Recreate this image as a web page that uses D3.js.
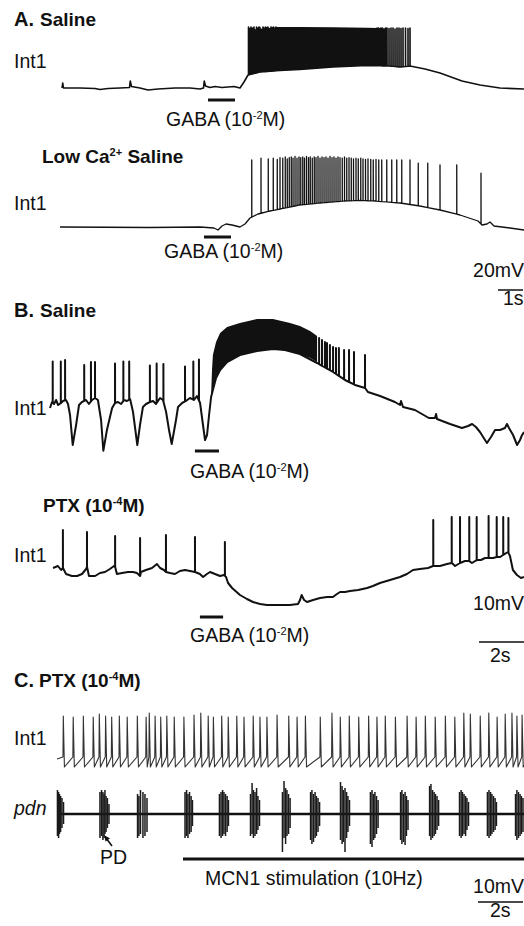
<!DOCTYPE html>
<html>
<head>
<meta charset="utf-8">
<script src="https://cdn.jsdelivr.net/npm/d3@7"></script>
<style>
  body { margin: 0; background: #fff; }
  text { font-family: "Liberation Sans", Arial, Helvetica, sans-serif; fill: #111; }
</style>
</head>
<body>
<script>
// ---------- data (time in s, voltage in mV relative to rest) ----------

// A. Saline, Int1
var a1Base = [[0,0],[0.03,4],[0.06,0],[0.72,0],[1.32,-0.4],[1.52,-1.2],[1.84,-0.4],[2.32,0],[2.7,0.4],[2.73,5.6],[2.78,1.2],
  [3.12,0],[3.44,-1.6],[3.84,-0.8],[4.52,0],[5.12,0],[5.52,-0.8],[5.66,0],[5.69,5.6],[5.74,1.6],[5.92,0.4],[6.12,1.2],[6.4,0.4],
  [6.64,0.8],[6.88,1.2],[7.12,0],[7.28,4.8],[7.44,10.4],[7.92,12.8],[8.72,14],[9.52,14.8],[10.84,16.8],[12.2,18],[13.12,17.6],
  [13.52,16.8],[13.92,17.6],[14.12,16.8],[14.52,15.2],[15.12,12],[16,5.6],[16.72,2.4],[17.52,0],[18.48,-0.8]];
var a1SpikeT = [7.46,7.52,7.56,7.62,7.68,7.72,7.78,7.84,7.88,7.92,7.98,8.04,8.08,8.14,8.2,8.24,8.3,8.36,8.4,8.46,8.52,8.56,
  12.6,12.66,12.72,12.76,12.82,12.88,12.94,13.0,13.08,13.16,13.24,13.32,13.4,13.48,13.56,13.64,13.74,13.84,13.92];
var a1SpikeV = [48.8,47.5,48.8,48,48.8,46.5,48.8,48,48.8,48.4,47,48.8,48,48.8,48.4,48.8,47.6,48.8,48.4,48.8,48,48.8,
  48,48,47.6,48,48,47.2,48,48,47.6,48,48,47.2,48,48,47.6,48,48,47.6,48];
// solid firing band: [t, lower, upper]
var a1Band = [[8.56,13.8,48.8],[9.52,14.8,48.8],[10.84,16.8,48.6],[12.2,18,48.2],[12.62,18,48]];
var a1Gaba = [5.84, 6.92];

// A. Low Ca2+ saline, Int1
var a2Base = [[0,0],[3.6,-0.4],[5.6,0],[6.16,-0.8],[6.32,-2.4],[6.48,0.8],[6.64,2.4],[6.88,1.6],[7.2,0],[7.4,2.4],[7.6,7.2],
  [7.68,8],[7.92,10.4],[8.4,12.8],[9,15.2],[9.6,17.6],[10.4,19.2],[11.4,20.8],[12,21.2],[12.6,20.8],[13.6,19.2],[14.4,16.8],
  [15.2,13.6],[16,9.6],[16.72,4.8],[16.88,1.6],[17.08,2.4],[17.2,4],[17.36,0.8],[18,-0.8],[18.56,-2.4]];
var a2SpikeT = [7.67,8.04,8.33,8.53,8.69,8.8,8.91,9.01,9.09,9.17,9.25,9.32,9.4,9.48,9.56,9.63,9.71,9.78,9.86,9.94,10.01,
  10.09,10.17,10.24,10.32,10.4,10.48,10.56,10.64,10.72,10.8,10.88,10.96,11.04,11.12,11.2,11.29,11.38,11.47,11.56,11.65,
  11.74,11.84,11.93,12.03,12.12,12.22,12.32,12.43,12.53,12.64,12.75,12.87,13.07,13.27,13.47,13.67,14.0,14.33,14.71,15.2,
  15.87,16.84];
var a2SpikeV = [53.6,55,54.5,55,54,55.5,55,56,54.5,55.5,56,55,56.5,55,56,55.5,56,55,56.5,55.5,56,
  55,56,55.5,56.5,55,56,55.5,56,55,56.5,55.5,56,55,56,55.5,55,56,55,55.5,55,
  54.5,55,54.5,55,54.5,54,54.5,54,53.6,54,53.6,53.6,53.6,53.6,53.6,53.6,53.6,51,51,49.6,
  49.6,43];
var a2Gaba = [5.76, 6.84];

// B. Saline, Int1
var b1Base = [[0,0],[0.09,3],[0.18,2],[0.27,4],[0.36,1.5],[0.49,2.5],[0.58,3.5],[0.71,4],[0.8,2],[0.89,-3.5],[1.01,-18.5],
  [1.16,-8.5],[1.29,1.5],[1.42,3],[1.6,4],[1.73,2],[1.87,4],[2,5],[2.13,4],[2.27,-6],[2.37,-21.4],[2.53,-11],[2.76,0],
  [2.89,2.5],[3.02,3],[3.16,2],[3.29,4],[3.42,3.5],[3.56,4.5],[3.69,-2],[3.88,-18.5],[4,-8.5],[4.13,0.5],[4.27,2],[4.44,3],
  [4.58,3.5],[4.71,2],[4.89,5],[5.02,4],[5.16,-2],[5.29,-11],[5.41,-18],[5.6,-6],[5.69,0.5],[5.87,2.5],[6.04,3.5],[6.22,5],
  [6.4,4],[6.53,6],[6.67,2.5],[6.8,-8.5],[6.89,-16],[6.98,-13.5],[7.07,-3.5],[7.16,5.5],[7.24,9],[7.38,15],[7.56,19],
  [7.87,23],[8.44,26.5],[9.2,28.5],[9.91,29.5],[10.44,29],[11.11,27],[11.87,22.5],[12.58,18],[13.11,14],[13.56,11.5],
  [14,10],[14.13,8],[14.67,6],[15.33,3],[15.56,1.5],[15.6,3.5],[15.69,0.5],[16.22,-1],[16.84,-5],[17.11,-5],[17.16,-3],
  [17.2,-5.5],[17.78,-8],[18.31,-10],[18.58,-9],[18.76,-8],[18.93,-9.5],[19.11,-12],[19.42,-17.5],[19.6,-14.5],
  [19.78,-11],[20,-11],[20.22,-10],[20.31,-8],[20.4,-10],[20.58,-13.5],[20.76,-18.5],[20.89,-16],[20.98,-13.5],[21.07,-12]];
var b1SpikeT = [0.12,0.48,0.67,1.52,1.82,2.0,2.89,3.26,3.52,4.44,4.74,5.04,6.0,6.37,6.62,
  11.96,12.09,12.22,12.31,12.44,12.58,12.71,12.84,13.07,13.29,13.51,14.0];
var b1SpikeV = [23.2,23.2,24,21.5,23,23,22.3,23.2,23.2,21.2,22.3,22,20.7,23.2,24.3,
  35,34,33,32.5,31.5,30.5,30,30,29,29,28,26.5];
var b1Band = [[7.16,5.5,6.5],[7.2,7.5,19],[7.24,9,26.5],[7.38,15,33],[7.56,19,37.5],[7.87,23,40.5],[8.44,26.5,42.5],
  [9.2,28.5,44.5],[9.91,29.5,44.5],[10.67,28.5,42.5],[11.11,27,41],[11.56,25,38.5],[11.87,23,36]];
var b1Gaba = [6.44, 7.51];

// B. PTX, Int1
var b2Base = [[0,2],[0.22,3],[0.36,1],[0.44,2],[0.58,-1],[0.84,-2],[1.07,-2],[1.29,-1],[1.47,1.5],[1.51,2.5],[1.6,-2],
  [1.87,-2],[2.09,-0.5],[2.31,0],[2.53,1.5],[2.71,3],[2.76,2.5],[2.84,-1],[3.07,-0.5],[3.33,0],[3.56,0],[3.73,-0.5],
  [3.87,-2],[3.91,0],[4.13,1],[4.4,2],[4.62,4],[4.76,2],[4.93,1],[5.02,0],[5.2,-0.5],[5.42,-1],[5.64,0.5],[5.87,1],
  [6.09,0.5],[6.31,0],[6.53,-1],[6.67,-2.5],[6.84,-1],[6.98,0],[7.2,-1],[7.42,-2],[7.6,-1.5],[7.69,-2.5],[7.78,-5.5],
  [7.96,-8],[8.31,-11.5],[8.62,-13.5],[8.89,-15],[9.2,-16],[9.51,-16.5],[9.87,-16.5],[10.22,-16.5],[10.53,-16.5],
  [10.89,-16],[10.98,-14],[11.05,-11.5],[11.16,-14],[11.29,-15],[11.56,-14],[11.87,-13],[12.18,-12.5],[12.44,-12.5],
  [12.62,-11],[12.76,-10],[12.98,-10],[13.2,-9.5],[13.56,-9],[13.96,-8],[14.22,-7],[14.53,-5.5],[14.98,-4],[15.42,-2.5],
  [15.73,-1],[16,1],[16.31,1.5],[16.67,2],[16.89,3],[17.2,3],[17.51,4],[17.73,4.5],[17.87,3],[18.09,4.5],[18.31,5.5],
  [18.49,5.5],[18.62,4.5],[18.84,6],[19.02,6],[19.2,7],[19.38,7],[19.56,7],[19.73,7.5],[19.87,7.5],[20,8.5],[20.22,10],
  [20.31,8],[20.44,1],[20.62,-1.5],[20.8,-3],[20.93,-2.5]];
var b2SpikeT = [0.44,1.51,2.76,3.87,5.02,6.31,7.64,16.9,17.72,18.09,18.5,18.83,19.36,19.72,20.01,20.24];
var b2SpikeV = [21,20,18,17,18.5,17.5,15,26,27.5,27.5,27.5,27.5,28,27.5,27.5,27];
var b2Gaba = [6.53, 7.56];

// C. PTX, Int1 (spike times and peak) and pdn (unit times, upward / downward extent)
var cIntSpikeT = [0.28,0.72,1.17,1.61,1.88,2.16,2.43,2.77,3.12,3.57,3.96,4.10,4.36,4.61,4.88,5.21,5.64,6.09,6.39,6.72,
  6.95,7.32,7.61,7.99,8.31,8.72,9.02,9.33,9.78,10.30,10.67,11.04,11.70,12.22,12.59,12.99,13.41,13.85,14.22,14.59,15.04,
  15.56,15.96,16.37,16.81,17.26,17.68,18.08,18.37,18.81,19.19,19.56,19.92,20.22,20.44,20.67];
var cIntSpikeV = [24.5,24,24.5,24,25.5,24.5,24,24.5,24,24.5,24,26,24.5,24,24.5,24,24,25,26,24.5,
  24,24.5,24,24.5,24,24.5,24,24,25,24.5,24,24.5,24,26,24,24.5,24,24.5,24,24.5,24,
  24.5,24,24.5,24,24.5,24,26,25.5,24.5,26,24,25.5,26,24.5,25];
var cIntPre = 4, cIntTrough = -1;
var pdnSpikes = [
  [0.02,24,22],[0.07,22,24],[0.11,20,20],[0.16,18,18],[0.22,16,14],[0.29,12,10],
  [1.91,22,24],[1.98,24,22],[2.04,22,26],[2.09,20,24],[2.13,24,20],[2.18,18,18],[2.24,16,14],[2.31,10,10],
  [3.58,20,24],[3.64,18,22],[3.71,24,20],[3.82,22,24],[3.91,20,22],[4.0,16,18],
  [5.69,22,24],[5.76,24,22],[5.82,20,24],[5.89,22,20],[5.96,18,18],[6.02,14,12],
  [7.22,20,22],[7.29,22,24],[7.36,24,22],[7.42,22,20],[7.49,20,22],[7.56,18,18],[7.62,14,12],
  [8.6,20,22],[8.67,31,20],[8.73,24,24],[8.8,22,22],[8.87,26,20],[8.93,18,16],[9.0,14,12],
  [10.02,22,38],[10.09,33,24],[10.16,26,30],[10.22,24,22],[10.29,20,20],[10.36,16,14],
  [11.27,22,26],[11.33,24,30],[11.4,20,28],[11.47,22,24],[11.53,18,22],[11.6,16,18],[11.67,12,12],
  [12.6,32,26],[12.67,28,30],[12.73,24,28],[12.8,26,38],[12.87,22,24],[12.93,18,18],[13.0,14,12],
  [13.93,22,30],[14.0,24,33],[14.07,20,26],[14.13,22,24],[14.2,18,20],[14.27,14,14],
  [15.27,22,26],[15.33,24,30],[15.4,20,28],[15.47,22,31],[15.53,18,22],[15.6,14,16],
  [16.56,28,22],[16.62,30,26],[16.69,24,24],[16.76,22,22],[16.82,20,20],[16.89,18,16],[16.96,14,12],
  [17.89,22,22],[17.96,24,24],[18.02,22,22],[18.09,20,20],[18.16,18,22],[18.22,16,16],[18.29,12,12],
  [19.13,22,22],[19.2,24,24],[19.27,22,22],[19.33,20,20],[19.4,18,18],[19.47,16,16],[19.53,12,12],
  [20.38,20,22],[20.44,24,26],[20.51,22,24],[20.58,20,22],[20.64,18,20],[20.71,16,18]];
var cStim = [5.6, 21];

// ---------- drawing ----------
var svg = d3.select("body").append("svg")
  .attr("width", 524)
  .attr("height", 926);

// scales for each recording
var xA = d3.scaleLinear().domain([0, 18.5]).range([62, 524.5]);
var xA2 = d3.scaleLinear().domain([0, 18.5]).range([60, 522.5]);
var yA1 = d3.scaleLinear().domain([0, 50]).range([88, 25.5]);
var yA2 = d3.scaleLinear().domain([0, 50]).range([227, 164.5]);
var xB1 = d3.scaleLinear().domain([0, 21]).range([50, 522.5]);
var xB2 = d3.scaleLinear().domain([0, 21]).range([53, 525.5]);
var yB1 = d3.scaleLinear().domain([0, 40]).range([408, 328]);
var yB2 = d3.scaleLinear().domain([0, 40]).range([572, 492]);
var xC = d3.scaleLinear().domain([0, 21]).range([57, 529.5]);
var yCi = d3.scaleLinear().domain([0, 25]).range([765, 715]);
var yPdn = d3.scaleLinear().domain([-40, 40]).range([854, 774]);

function interp(base, t) {
  for (var i = 1; i < base.length; i++) {
    if (t <= base[i][0]) {
      var a = base[i - 1], b = base[i];
      return a[1] + (t - a[0]) / (b[0] - a[0]) * (b[1] - a[1]);
    }
  }
  return base[base.length - 1][1];
}

// baseline + spikes merged into one trace
function withSpikes(base, times, peaks) {
  var groups = base.map(function(p) { return {t: p[0], pts: [p]}; });
  times.forEach(function(t, i) {
    var b = interp(base, t);
    groups.push({t: t, pts: [[t, b], [t, peaks[i]], [t + 0.003, b]]});
  });
  groups.sort(function(a, b) { return a.t - b.t; });
  return [].concat.apply([], groups.map(function(g) { return g.pts; }));
}

function drawTrace(pts, x, y, width, color) {
  svg.append("path")
    .datum(pts)
    .attr("d", d3.line().x(function(d) { return x(d[0]); }).y(function(d) { return y(d[1]); }))
    .attr("fill", "none")
    .attr("stroke", color || "#111")
    .attr("stroke-width", width)
    .attr("stroke-linejoin", "round");
}

function drawBand(band, x, y) {
  svg.append("path")
    .datum(band)
    .attr("d", d3.area()
      .x(function(d) { return x(d[0]); })
      .y0(function(d) { return y(d[1]); })
      .y1(function(d) { return y(d[2]); }))
    .attr("fill", "#111");
}

function drawBar(range, x, yPos) {
  svg.append("line")
    .attr("x1", x(range[0])).attr("x2", x(range[1]))
    .attr("y1", yPos).attr("y2", yPos)
    .attr("stroke", "#111").attr("stroke-width", 3);
}

// text with optional superscript pieces {sup: "..."}
function addText(x, y, segs, o) {
  o = o || {};
  var t = svg.append("text")
    .attr("x", x).attr("y", y)
    .attr("font-size", o.size || 19.5)
    .attr("font-weight", o.weight || "normal")
    .attr("font-style", o.style || "normal")
    .attr("text-anchor", o.anchor || "start");
  var up = false;
  segs.forEach(function(s) {
    if (typeof s === "string") {
      var ts = t.append("tspan").text(s);
      if (up) { ts.attr("dy", 7); up = false; }
    } else {
      t.append("tspan").attr("font-size", 11).attr("dy", -7).text(s.sup);
      up = true;
    }
  });
  return t;
}

// ----- panel A: saline -----
addText(14, 26, ["A."], {weight: "bold", size: 20});
addText(40, 26, ["Saline"], {weight: "bold", size: 19});
addText(14, 68, ["Int1"]);
drawBand(a1Band, xA, yA1);
drawTrace(withSpikes(a1Base, a1SpikeT, a1SpikeV), xA, yA1, 1.6);
drawBar(a1Gaba, xA, 100);
addText(166, 126, ["GABA (10", {sup: "-2"}, "M)"]);

// ----- panel A: low Ca -----
addText(42, 163, ["Low Ca", {sup: "2+"}, " Saline"], {weight: "bold", size: 19});
addText(14, 210, ["Int1"]);
drawTrace(withSpikes(a2Base, a2SpikeT, a2SpikeV), xA2, yA2, 1.3);
drawBar(a2Gaba, xA2, 237);
addText(164, 258, ["GABA (10", {sup: "-2"}, "M)"]);

// scale bar A
addText(524, 277, ["20mV"], {anchor: "end"});
svg.append("line")
  .attr("x1", 523 - (xA(1) - xA(0))).attr("x2", 523)
  .attr("y1", 290).attr("y2", 290)
  .attr("stroke", "#111").attr("stroke-width", 1.5);
addText(503, 305, ["1s"]);

// ----- panel B: saline -----
addText(14, 317, ["B."], {weight: "bold", size: 20});
addText(40, 317, ["Saline"], {weight: "bold", size: 19});
addText(14, 415, ["Int1"]);
drawBand(b1Band, xB1, yB1);
drawTrace(withSpikes(b1Base, b1SpikeT, b1SpikeV), xB1, yB1, 2);
drawBar(b1Gaba, xB1, 451);
addText(190, 478, ["GABA (10", {sup: "-2"}, "M)"]);

// ----- panel B: PTX -----
addText(43, 512, ["PTX (10", {sup: "-4"}, "M)"], {weight: "bold", size: 19});
addText(14, 562, ["Int1"]);
drawTrace(withSpikes(b2Base, b2SpikeT, b2SpikeV), xB2, yB2, 2);
drawBar(b2Gaba, xB2, 617);
addText(190, 642, ["GABA (10", {sup: "-2"}, "M)"]);

// scale bar B
addText(524, 610, ["10mV"], {anchor: "end"});
svg.append("line")
  .attr("x1", 524 - (xB1(2) - xB1(0))).attr("x2", 524)
  .attr("y1", 642).attr("y2", 642)
  .attr("stroke", "#111").attr("stroke-width", 1.5);
addText(490, 662, ["2s"]);

// ----- panel C -----
addText(14, 687, ["C."], {weight: "bold", size: 20});
addText(39, 687, ["PTX (10", {sup: "-4"}, "M)"], {weight: "bold", size: 19});
addText(14, 745, ["Int1"]);

var cPts = [[0, cIntPre - 1]];
cIntSpikeT.forEach(function(t, i) {
  cPts.push([t - 0.015, cIntPre], [t, cIntSpikeV[i]], [t + 0.05, cIntTrough]);
});
cPts.push([20.9, cIntPre - 2]);
drawTrace(cPts, xC, yCi, 1.1, "#333");

addText(14, 815, ["pdn"], {style: "italic"});
svg.append("line")
  .attr("x1", xC(0)).attr("x2", xC(20.9))
  .attr("y1", yPdn(0)).attr("y2", yPdn(0))
  .attr("stroke", "#111").attr("stroke-width", 2.4);
svg.selectAll(".pdn-spike")
  .data(pdnSpikes)
  .enter()
  .append("line")
  .attr("class", "pdn-spike")
  .attr("x1", function(d) { return xC(d[0]); })
  .attr("x2", function(d) { return xC(d[0]); })
  .attr("y1", function(d) { return yPdn(d[1]); })
  .attr("y2", function(d) { return yPdn(-d[2]); })
  .attr("stroke", "#1a1a1a")
  .attr("stroke-width", 1.5);

// PD arrow
svg.append("line")
  .attr("x1", 112).attr("y1", 846).attr("x2", 106).attr("y2", 838)
  .attr("stroke", "#111").attr("stroke-width", 1.5);
svg.append("path")
  .attr("d", "M104,835 L110,838.5 L105.5,841.5 Z")
  .attr("fill", "#111");
addText(100, 864, ["PD"]);

drawBar(cStim, xC, 859);
addText(205, 885, ["MCN1 stimulation (10Hz)"]);

// scale bar C
addText(524, 893, ["10mV"], {anchor: "end"});
svg.append("line")
  .attr("x1", 523 - (xC(2) - xC(0))).attr("x2", 523)
  .attr("y1", 902).attr("y2", 902)
  .attr("stroke", "#111").attr("stroke-width", 1.5);
addText(490, 917, ["2s"]);
</script>
</body>
</html>
